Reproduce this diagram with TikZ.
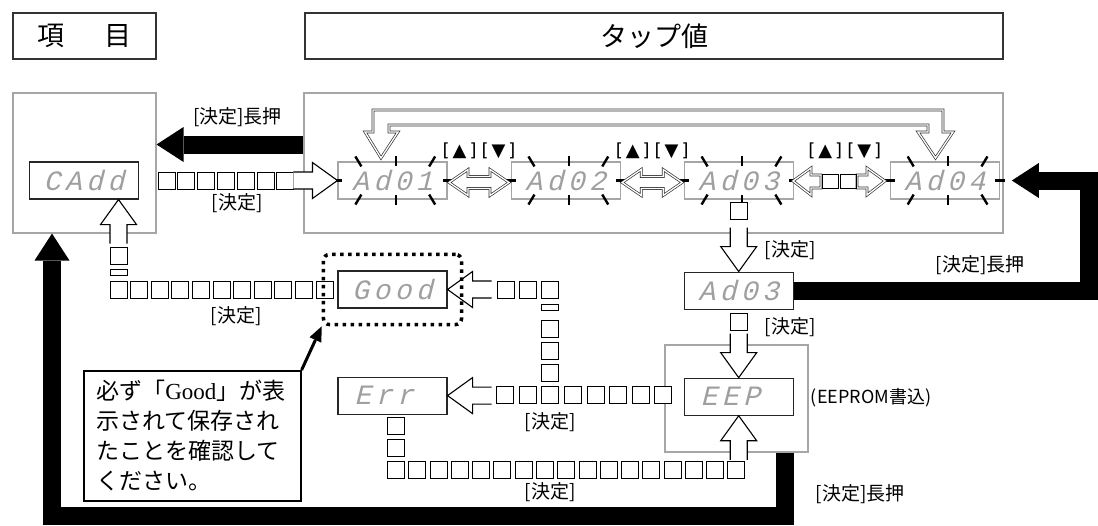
\documentclass[tikz,border=0pt]{standalone}
\usepackage{fontspec}
\usepackage{tikz}
\usetikzlibrary{arrows.meta,positioning,calc,fit}
\newfontfamily\jp{Noto Sans CJK JP}
\newfontfamily\seg{Liberation Mono}[FakeSlant=0.25,LetterSpace=16]
\newfontfamily\sym{DejaVu Sans}
\newfontfamily\lserif{Liberation Serif}
\newcommand\blink[1]{%
  \draw[tick] ($(#1.north west)!0.19!(#1.north east)+(-3,-5)$) -- ++(6,10);
  \draw[tick] ($(#1.north west)!0.53!(#1.north east)+(0,-5)$) -- ++(0,10);
  \draw[tick] ($(#1.north west)!0.86!(#1.north east)+(3,-5)$) -- ++(-6,10);
  \draw[tick] ($(#1.south west)!0.19!(#1.south east)+(-3,5)$) -- ++(6,-10);
  \draw[tick] ($(#1.south west)!0.53!(#1.south east)+(0,5)$) -- ++(0,-10);
  \draw[tick] ($(#1.south west)!0.86!(#1.south east)+(3,5)$) -- ++(-6,-10);
  \draw[tick] ($(#1.west)+(-5,0)$) -- ++(10,0);
  \draw[tick] ($(#1.east)+(5,0)$) -- ++(-10,0);}
\tikzset{
  disp/.style={draw=black!85, line width=1.1pt, minimum width=109pt, minimum height=37pt,
    inner sep=0pt, text=gray!75, font=\seg\fontsize{28}{28}\selectfont},
  bdisp/.style={disp, draw=gray!70},
  panel/.style={draw=gray!70, line width=1.1pt, inner sep=0pt},
  hdr/.style={draw=black!80, line width=1.3pt, minimum height=46pt, inner sep=0pt,
    font=\jp\fontsize{27}{27}\selectfont},
  lbl/.style={font=\jp\fontsize{19}{19}\selectfont, inner sep=0pt},
  updn/.style={font=\sym\fontsize{18}{18}\selectfont, inner sep=0pt},
  tick/.style={line width=2.4pt},
  dbl/.style={draw=black!80, double=white, double distance=1.3pt, line width=0.7pt, line join=miter},
  fat/.style={line width=18pt, line join=miter, -{Triangle[length=27pt,width=35pt,line width=0pt]}},
  sqb/.pic={\draw[fill=white, line width=1pt] (-8.5,-8.5) rectangle (8.5,8.5);},
  hhead/.pic={\draw[fill=white, line width=1.1pt, line join=miter]
    (-44,-8.5) -- (-25,-8.5) -- (-25,-18) -- (0,0) -- (-25,18) -- (-25,8.5) -- (-44,8.5);},
  swap/.pic={\path[dbl, fill=white] (-30,0) -- (-11,-13) -- (-11,-6) -- (11,-6) -- (11,-13)
    -- (30,0) -- (11,13) -- (11,6) -- (-11,6) -- (-11,13) -- cycle;}
}
\begin{document}
\begin{tikzpicture}[x=1pt,y=-1pt]
  \useasboundingbox (0,0) rectangle (1098,525);
  \node[hdr, minimum width=143pt] (hdItem) at (84.5,36) {項\hspace{1.5em}目};
  \node[hdr, minimum width=698pt] (hdTap) at (654,36) {タップ値};
  \node[panel, minimum width=143pt, minimum height=140pt] (itemBox) at (84.5,163) {};
  \node[panel, minimum width=699pt, minimum height=140pt] (tapBox) at (653.5,163) {};
  \node[panel, minimum width=143pt, minimum height=107pt] (eepBox) at (736.5,398.5) {};

  \node[disp] (cadd) at (84,180.5) {CAdd};
  \node[bdisp] (ad01) at (392.5,180.5) {Ad01};
  \node[bdisp, right=63pt of ad01] (ad02) {Ad02};
  \node[bdisp, right=63pt of ad02] (ad03) {Ad03};
  \node[bdisp, right=96pt of ad03] (ad04) {Ad04};
  \node[disp, below=72pt of ad03] (ad03b) {Ad03};
  \node[disp, below=68pt of ad03b] (eep) {EEP\hphantom{P}};
  \node[disp] (good) at (392.5,289.5) {Good};
  \node[disp, below=68pt of good] (err) {Err\hphantom{r}};
  \blink{ad01}
  \blink{ad02}
  \blink{ad03}
  \blink{ad04}

  \path[dbl, fill=white] (365,132) -- (381,158) -- (398,132) -- (389,132) -- (389,125) -- (928,125)
    -- (928,132) -- (918,132) -- (935.5,158) -- (953,132) -- (943,132) -- (943,110) -- (373,110)
    -- (373,132) -- cycle;
  \pic at ($(ad01.east)!0.5!(ad02.west)+(0,2)$) {swap};
  \pic at ($(ad02.east)!0.5!(ad03.west)+(0,2)$) {swap};
  \path[dbl, fill=white] (793,181) -- (811,168) -- (811,175) -- (821,175) -- (821,188) -- (811,188)
    -- (811,195) -- cycle;
  \path[dbl, fill=white] (885,181) -- (867,168) -- (867,175) -- (857,175) -- (857,188) -- (867,188)
    -- (867,195) -- cycle;
  \draw[line width=1pt] (822,174.5) rectangle (838,188.5) (840,174.5) rectangle (856,188.5);
  \node[updn] (ud1) at ($(ad01.east)!0.5!(ad02.west)+(0,-29.5)$) {[\,▲\,]\hspace{5pt}[\,▼\,]};
  \node[updn] (ud2) at ($(ad02.east)!0.5!(ad03.west)+(0,-29.5)$) {[\,▲\,]\hspace{5pt}[\,▼\,]};
  \node[updn] (ud3) at ($(ad03.east)!0.5!(ad04.west)+(3,-29.5)$) {[\,▲\,]\hspace{5pt}[\,▼\,]};

  \foreach \i in {0,...,6} \pic at ({166.5+19.8*\i},180.5) {sqb};
  \pic at (ad01.west) {hhead};
  \pic at ($(ad03.south)+(0,11.5)$) {sqb};
  \pic[rotate=-90] at (ad03b.north) {hhead};
  \pic at ($(ad03b.south)+(0,12)$) {sqb};
  \pic[rotate=-90] at (eep.north) {hhead};
  \foreach \i in {0,...,7} \pic at ({505+22.64*\i},395) {sqb};
  \foreach \y in {373,351,329} \pic at (550,\y) {sqb};
  \draw[fill=white, line width=1pt] (541.5,304) rectangle (558.5,310);
  \foreach \x in {506,528,550} \pic at (\x,289.5) {sqb};
  \pic[rotate=180] at (err.east) {hhead};
  \pic[rotate=180] at (good.east) {hhead};
  \foreach \i in {0,...,10} \pic at ({118.5+20.6*\i},289.5) {sqb};
  \pic at (118.5,256) {sqb};
  \draw[fill=white, line width=1pt] (110,269) rectangle (127,275);
  \pic[rotate=90] at ([xshift=34.5pt]cadd.south) {hhead};
  \foreach \y in {426,448} \pic at (396,\y) {sqb};
  \foreach \i in {0,...,16} \pic at ({396+21.28*\i},470) {sqb};
  \pic[rotate=90] at (eep.south) {hhead};

  \node[fit=(good), inner xsep=14pt, inner ysep=16pt, draw, line width=3.5pt,
    dash pattern=on 3.5pt off 4.5pt, rounded corners=6pt] (goodfr) {};
  \node[draw, line width=1.6pt, anchor=north west, text width=192pt, minimum height=130pt,
    inner xsep=12.5pt, align=left, font=\jp\fontsize{23}{30}\selectfont] (note) at (83,370)
    {必ず「{\lserif Good}」が表\\示されて保存され\\たことを確認して\\ください。};
  \draw[line width=3pt, -{Triangle[length=15pt,width=13pt,line width=0pt]}] (note.north east) -- (goodfr.south west);

  \coordinate (rc) at (1089,230);
  \coordinate (bl) at (52,516);
  \draw[fat] ([yshift=18.5pt]tapBox.west) -- ([yshift=18.5pt]itemBox.east);
  \draw[fat] (ad03b.east) -| (rc) |- ([xshift=12pt]ad04.east);
  \draw[fat] ([xshift=48.5pt]eepBox.south) |- (bl) -- (bl |- itemBox.south);

  \node[lbl] (lp1) at (237.5,117) {[決定]長押};
  \node[lbl] (k1) at (237,203) {[決定]};
  \node[lbl] (k2) at (790,250) {[決定]};
  \node[lbl] (lp2) at (980,265) {[決定]長押};
  \node[lbl] (k3) at (790,327) {[決定]};
  \node[lbl, font=\jp\fontsize{18}{18}\selectfont] (eeprom) at (871,398) {(EEPROM書込)};
  \node[lbl] (k4) at (236,316) {[決定]};
  \node[lbl] (k5) at (550,422) {[決定]};
  \node[lbl] (k6) at (550,492) {[決定]};
  \node[lbl] (lp3) at (860,494) {[決定]長押};
\end{tikzpicture}
\end{document}
